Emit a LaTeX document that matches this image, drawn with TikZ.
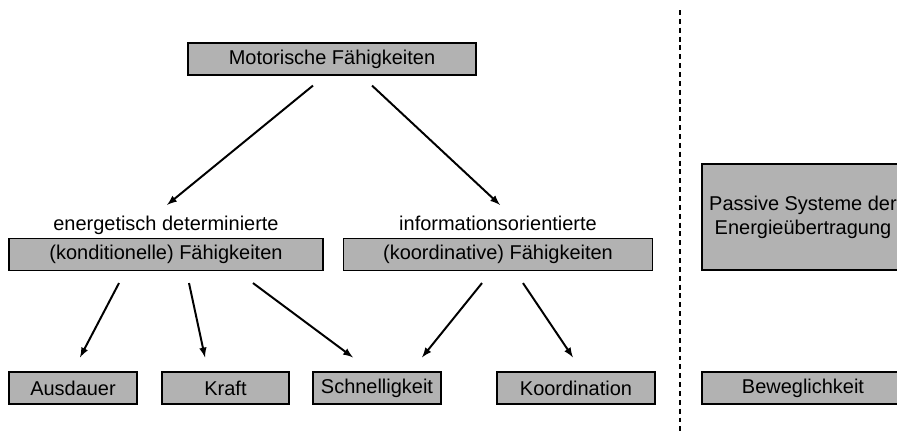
\documentclass[tikz,border=0pt]{standalone}
\usepackage{fontspec}
\setmainfont{Liberation Sans}
\usetikzlibrary{arrows,calc}

\begin{document}
\begin{tikzpicture}[x=0.025cm,y=-0.025cm,
  every node/.style={font=\fontsize{14.2}{17}\selectfont},
  kasten/.style={draw=black,fill=black!30,line width=0.8pt,minimum height=0.8cm,inner sep=0pt,align=center},
  pfeil/.style={-latex,line width=1.4pt}]
\useasboundingbox (0,0) rectangle (897,435);
\clip (0,0) rectangle (897,435);

\node[kasten,minimum width=7.2cm] (motor) at (332,59) {Motorische Fähigkeiten};

\node[anchor=base] (energ) at (166,230) {energetisch determinierte};
\node[kasten,minimum width=7.85cm] (kond) at (166,254.5) {(konditionelle) Fähigkeiten};
\node[anchor=base] (info) at (498,230) {informationsorientierte};
\node[kasten,minimum width=7.725cm] (koord) at (498,254.5) {(koordinative) Fähigkeiten};

\node[kasten,minimum width=3.2cm] (ausdauer) at (73,388) {Ausdauer};
\node[kasten,minimum width=3.175cm] (kraft) at (225.5,388) {Kraft};
\node[kasten,minimum width=3.2cm] (schnell) at (377,388) {Schnelligkeit};
\node[kasten,minimum width=3.95cm] (koordination) at (576,388) {Koordination};

% rechter Teil, am Rand abgeschnitten
\node[kasten,minimum width=5.05cm,minimum height=2.65cm] (passiv) at (803,217) {Passive Systeme der\\Energieübertragung};
\node[kasten,minimum width=5.05cm] (beweg) at (803,388) {Beweglichkeit};

% Trennlinie
\coordinate (trennoben) at (680,10);
\coordinate (trennunten) at (680,435);
\draw[line width=1pt,dash pattern=on 3.5pt off 2.8pt] (trennoben)--(trennunten);

\draw[pfeil] ($(motor.south)+(-19,10)$)--($(kond.north)+(1,-33)$);
\draw[pfeil] ($(motor.south)+(40,10)$)--($(koord.north)+(2,-33)$);
\draw[pfeil] ($(kond.south)+(-47,12)$)--($(ausdauer.north)+(7,-14)$);
\draw[pfeil] ($(kond.south)+(23,12)$)--($(kraft.north)+(-20.5,-14)$);
\draw[pfeil] ($(kond.south)+(87,12)$)--($(schnell.north)+(-24,-14)$);
\draw[pfeil] ($(koord.south)+(-16,12)$)--($(schnell.north)+(45,-14)$);
\draw[pfeil] ($(koord.south)+(25,12)$)--($(koordination.north)+(-3,-14)$);
\end{tikzpicture}
\end{document}
